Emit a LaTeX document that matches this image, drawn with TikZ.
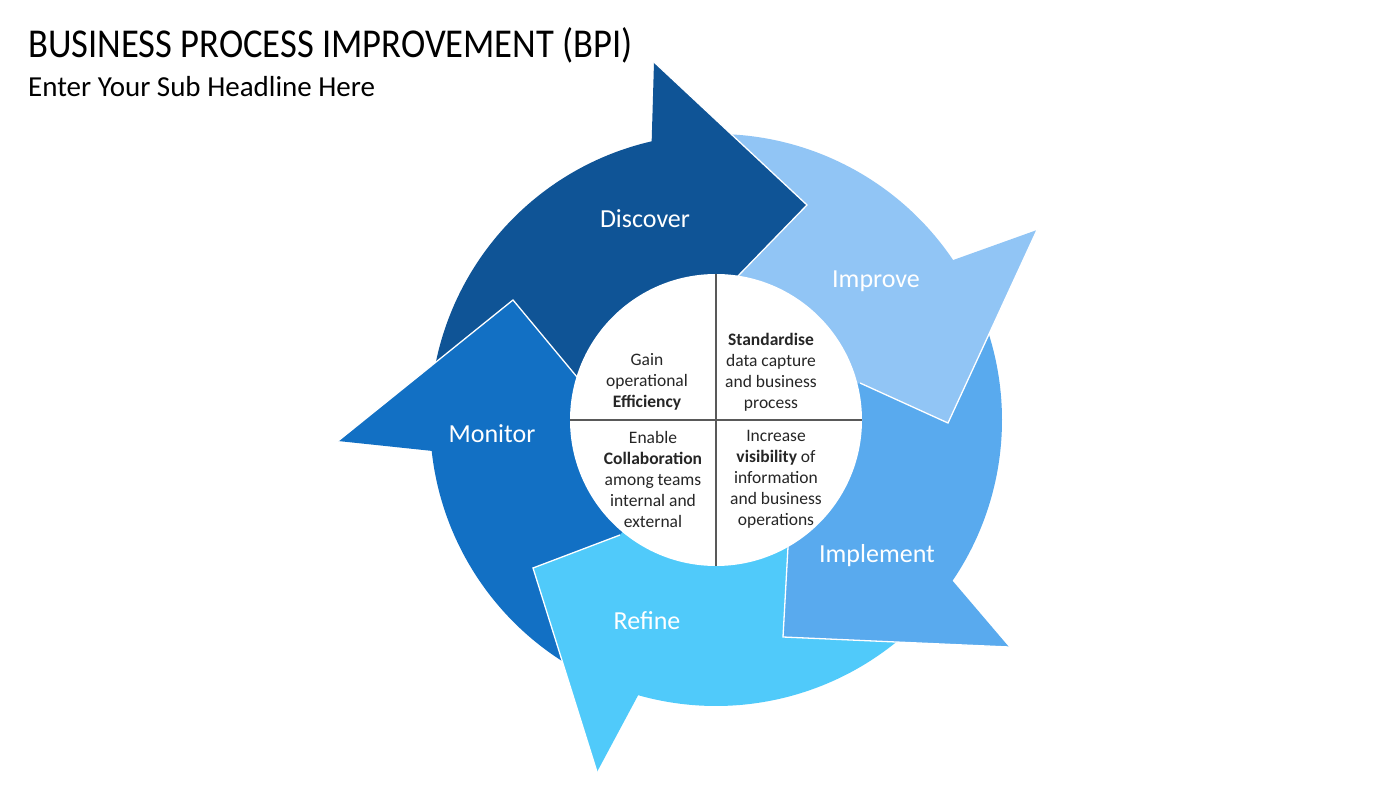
\documentclass[tikz,border=0pt]{standalone}
\usepackage{fontspec}
\setmainfont{Carlito}
\usetikzlibrary{calc}
\definecolor{cDisc}{HTML}{0F5496}
\definecolor{cImpr}{HTML}{91C5F5}
\definecolor{cImpl}{HTML}{59AAEE}
\definecolor{cRef}{HTML}{50CAFA}
\definecolor{cMon}{HTML}{1270C4}
\definecolor{cTxt}{HTML}{262626}
\definecolor{cLine}{HTML}{595959}
\tikzset{
  headedge/.style={draw=white, line width=1.3pt, line join=miter},
  steplabel/.style={text=white, font=\fontsize{26}{30}\selectfont, inner sep=0pt},
  quadtext/.style={text=cTxt, align=center, font=\fontsize{17.5}{21}\selectfont, inner sep=0pt},
}
\begin{document}
\begin{tikzpicture}[x=1pt,y=1pt]
\useasboundingbox (0,0) rectangle (1400,788);
\fill[white] (0,0) rectangle (1400,788);
\coordinate (C) at (716,368);
\def\Ro{286}
\def\Ri{130}
% ---- bodies (annular sectors) ----
\fill[cDisc] ($(C)+(183.2:\Ro)$) arc[start angle=183.2, end angle=100, radius=\Ro] -- ($(C)+(100:\Ri)$) arc[start angle=100, end angle=183.2, radius=\Ri] -- cycle;
\fill[cImpr] ($(C)+(100:\Ro)$) arc[start angle=100, end angle=31, radius=\Ro] -- ($(C)+(31:\Ri)$) arc[start angle=31, end angle=100, radius=\Ri] -- cycle;
\fill[cImpl] ($(C)+(31:\Ro)$) arc[start angle=31, end angle=-37.2, radius=\Ro] -- ($(C)+(-37.2:\Ri)$) arc[start angle=-37.2, end angle=31, radius=\Ri] -- cycle;
\fill[cRef] ($(C)+(-37.2:\Ro)$) arc[start angle=-37.2, end angle=-108.8, radius=\Ro] -- ($(C)+(-108.8:\Ri)$) arc[start angle=-108.8, end angle=-37.2, radius=\Ri] -- cycle;
\fill[cMon] ($(C)+(-108.8:\Ro)$) arc[start angle=-108.8, end angle=-176.8, radius=\Ro] -- ($(C)+(-176.8:\Ri)$) arc[start angle=-176.8, end angle=-108.8, radius=\Ri] -- cycle;
% ---- heads ----
\coordinate (dN) at ($(C)+(103:\Ro)$);
\coordinate (dB) at (654,726); \coordinate (dT) at (807,583); \coordinate (dP) at (737,511);
\coordinate (iN) at ($(C)+(34:\Ro)$);
\coordinate (iB) at (1037,558); \coordinate (iT) at (948,365); \coordinate (iP) at (860,405);
\coordinate (mN) at ($(C)+(-34.2:\Ro)$);
\coordinate (mB) at (1009,141); \coordinate (mT) at (783,151); \coordinate (mP) at (788,241);
\coordinate (rN) at ($(C)+(-105.8:\Ro)$);
\coordinate (rB) at (597,16); \coordinate (rT) at (533,220); \coordinate (rP) at (620,253);
\coordinate (oN) at ($(C)+(186.2:\Ro)$);
\coordinate (oB) at (338,347); \coordinate (oT) at (513,488); \coordinate (oP) at (577,411);
\fill[cDisc] (dN) -- (dB) -- (dT) -- (dP) -- (C) -- cycle;
\draw[headedge] (dB) -- (dT) -- (dP);
\fill[cImpr] (iN) -- (iB) -- (iT) -- (iP) -- (C) -- cycle;
\draw[headedge] (iB) -- (iT) -- (iP);
\fill[cImpl] (mN) -- (mB) -- (mT) -- (mP) -- (C) -- cycle;
\draw[headedge] (mB) -- (mT) -- (mP);
\fill[cRef] (rN) -- (rB) -- (rT) -- (rP) -- (C) -- cycle;
\draw[headedge] (rB) -- (rT) -- (rP);
\fill[cMon] (oN) -- (oB) -- (oT) -- (oP) -- (C) -- cycle;
\draw[headedge] (oB) -- (oT) -- (oP);
% ---- centre circle ----
\fill[white] (C) circle[radius=146];
\draw[cLine, line width=1.2pt] ($(C)+(0,146)$) -- ($(C)+(0,-146)$);
\draw[cLine, line width=1.2pt] ($(C)+(-146,0)$) -- ($(C)+(146,0)$);
% ---- labels ----
\node[steplabel] (lDisc) at (645,569) {Discover};
\node[steplabel] (lImpr) at (876,507) {Improve};
\node[steplabel] (lImpl) at (877,232) {Implement};
\node[steplabel] (lRef) at (647,167) {Refine};
\node[steplabel] (lMon) at (492,354) {Monitor};
\node[quadtext] (qTL) at (647,406) {Gain\\operational\\\textbf{Efficiency}};
\node[quadtext] (qTR) at (771,415.5) {\textbf{Standardise}\\data capture\\and business\\process};
\node[quadtext] (qBL) at (653,309) {Enable\\\textbf{Collaboration}\\among teams\\internal and\\external};
\node[quadtext] (qBR) at (776,309) {Increase\\\textbf{visibility} of\\information\\and business\\operations};
% ---- titles ----
\node[anchor=base west, inner sep=0pt, text=black, xscale=0.893, font=\fontsize{41}{48}\selectfont] (title) at (28,730) {BUSINESS PROCESS IMPROVEMENT (BPI)};
\node[anchor=base west, inner sep=0pt, text=black, font=\fontsize{29}{34}\selectfont] (subtitle) at (28,691) {Enter Your Sub Headline Here};
\end{tikzpicture}
\end{document}
